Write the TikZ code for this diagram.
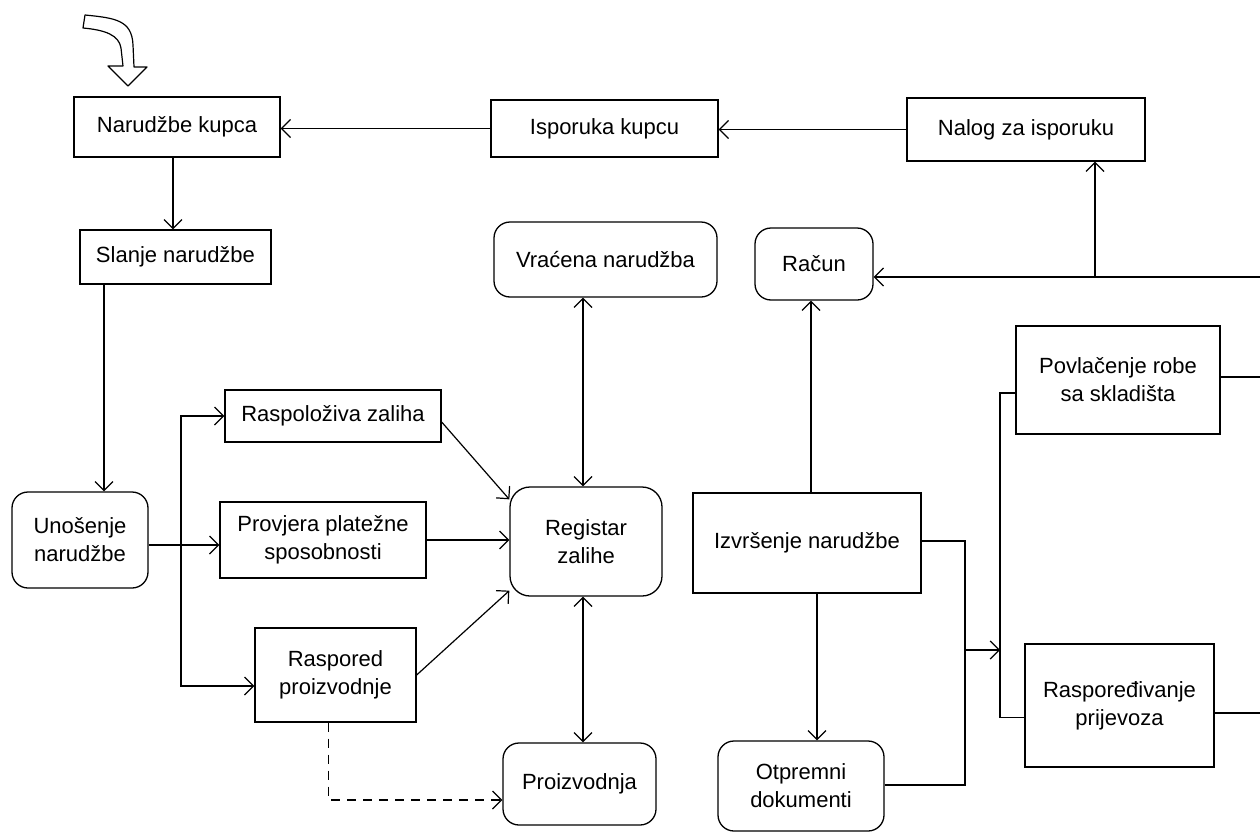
\documentclass[tikz,border=0pt]{standalone}
\usepackage{fontspec}
\setmainfont{Liberation Sans}
\usetikzlibrary{arrows.meta,calc}
\begin{document}
\begin{tikzpicture}[x=1pt,y=-1pt,
  every node/.style={font=\fontsize{22}{28}\selectfont, align=center, inner sep=0pt},
  box/.style={draw, line width=1.3pt, rectangle},
  rbox/.style={draw, line width=1.3pt, rectangle, rounded corners=16pt},
  conn/.style={line width=1.2pt},
  arr/.style={conn, -{Straight Barb[length=9pt,width=18pt]}},
  dbl/.style={conn, {Straight Barb[length=9pt,width=18pt]}-{Straight Barb[length=9pt,width=18pt]}},
]
\useasboundingbox (0,0) rectangle (1260,835);

% block arrow top-left
\draw[line width=1.2pt, line join=round] (85,15) .. controls (115,18) and (132,20) .. (133,45) -- (134,67) -- (147,67) -- (128,86) -- (108,66) -- (123,66) -- (121,48) .. controls (119,35) and (105,30) .. (83,28) -- cycle;

\node[box, minimum width=206pt, minimum height=60pt] (nk) at (177,127) {Narudžbe kupca};
\node[box, minimum width=227pt, minimum height=57pt] (ik) at (604.5,128.5) {Isporuka kupcu};
\node[box, minimum width=238pt, minimum height=63pt] (nal) at (1026,129.5) {Nalog za isporuku};
\node[box, minimum width=191pt, minimum height=54pt] (sl) at (175.5,257) {Slanje narudžbe};
\node[rbox, minimum width=223pt, minimum height=75pt] (vr) at (605.5,259.5) {Vraćena narudžba};
\node[rbox, minimum width=118pt, minimum height=72pt] (rac) at (814,264) {Račun};
\node[box, minimum width=204pt, minimum height=108pt] (pov) at (1118,380) {Povlačenje robe\\sa skladišta};
\node[box, minimum width=216pt, minimum height=52pt] (rz) at (333,416) {Raspoloživa zaliha};
\node[rbox, minimum width=136pt, minimum height=96pt] (un) at (80,540) {Unošenje\\narudžbe};
\node[box, minimum width=206pt, minimum height=76pt] (pp) at (323,540) {Provjera platežne\\sposobnosti};
\node[rbox, rounded corners=20pt, minimum width=152pt, minimum height=109pt] (reg) at (586,541.5) {Registar\\zalihe};
\node[box, minimum width=228pt, minimum height=100pt] (izv) at (807,543) {Izvršenje narudžbe};
\node[box, minimum width=161pt, minimum height=94pt] (rp) at (335.5,675) {Raspored\\proizvodnje};
\node[box, minimum width=189pt, minimum height=123pt] (rpr) at (1119.5,705.5) {Raspoređivanje\\prijevoza};
\node[rbox, minimum width=153pt, minimum height=82pt] (pr) at (579.5,784) {Proizvodnja};
\node[rbox, minimum width=166pt, minimum height=90pt] (ot) at (801,786) {Otpremni\\dokumenti};

% top row
\draw[arr] (ik.west) -- (ik.west -| nk.east);
\draw[arr] (nal.west) -- (nal.west -| ik.east);
\draw[arr] ([xshift=-4pt]nk.south) -- ([xshift=-4pt]nk.south |- sl.north);
\draw[arr] ([xshift=24pt]un.north |- sl.south) -- ([xshift=24pt]un.north);

% from Unosenje
\coordinate (b1) at (181,545);
\draw[arr] ([yshift=-5pt]un.east) -- ([yshift=-5pt]un.east -| pp.west);
\draw[arr] (b1) |- (rz.west);
\draw[arr] (b1) |- ([yshift=-11pt]rp.west);

% into Registar
\draw[arr] ([yshift=-6pt]rz.east) -- ([yshift=-13pt]reg.north west);
\draw[arr] (pp.east) -- (pp.east -| reg.west);
\draw[arr] (rp.east) -- ([yshift=6pt]reg.south west);
\draw[dbl] ([xshift=-3pt]reg.north) -- ([xshift=-3pt]reg.north |- vr.south);
\draw[dbl] ([xshift=-3pt]reg.south) -- ([xshift=-3pt]reg.south |- pr.north);
\draw[arr, dashed, dash pattern=on 9pt off 7pt] ([xshift=-7pt]rp.south) |- ([yshift=-16pt]pr.west);

% Izvrsenje
\draw[arr] ([xshift=4pt]izv.north) -- ([xshift=4pt]izv.north |- rac.south);
\draw[arr] ([xshift=10pt]izv.south) -- ([xshift=10pt]izv.south |- ot.north);
\coordinate (j1) at (965,650);
\coordinate (j2) at (1000,650);
\draw[conn] ([yshift=2pt]izv.east) -| (j1);
\draw[conn] ([yshift=1pt]ot.east) -| (j1);
\draw[arr] (j1) -- (j2);
\draw[conn] ([yshift=-13pt]pov.west) -| (j2) |- ([yshift=-12pt]rpr.west);

% right edge
\coordinate (e1) at (1262,277);
\coordinate (b2) at (1095,277);
\draw[arr] (e1) -- (e1 -| rac.east);
\draw[arr] (b2) -- (b2 |- nal.south);
\coordinate (e2) at (1262,377);
\coordinate (e3) at (1262,713);
\draw[conn] (e2 -| pov.east) -- (e2);
\draw[conn] (e3 -| rpr.east) -- (e3);
\end{tikzpicture}
\end{document}
